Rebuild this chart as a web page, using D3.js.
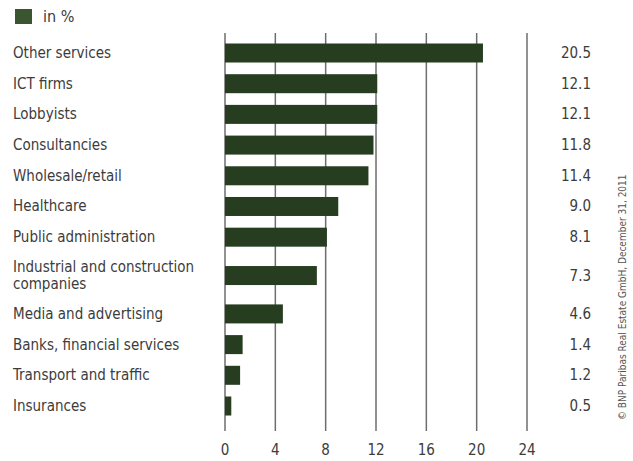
<!DOCTYPE html>
<html>
<head>
<meta charset="utf-8">
<script src="https://cdn.jsdelivr.net/npm/d3@7"></script>
<style>
  body { margin: 0; background: #fff; }
  text { font-family: "DejaVu Sans", sans-serif; font-stretch: condensed; }
</style>
</head>
<body>
<svg id="chart" width="633" height="461"></svg>
<script>
// categories and values (in %)
var categories = ["Other services", "ICT firms", "Lobbyists", "Consultancies", "Wholesale/retail",
  "Healthcare", "Public administration", "Industrial and construction companies",
  "Media and advertising", "Banks, financial services", "Transport and traffic", "Insurances"];
var values = [20.5, 12.1, 12.1, 11.8, 11.4, 9.0, 8.1, 7.3, 4.6, 1.4, 1.2, 0.5];
var labels = ["20.5", "12.1", "12.1", "11.8", "11.4", "9.0", "8.1", "7.3", "4.6", "1.4", "1.2", "0.5"];
var ticks = [0, 4, 8, 12, 16, 20, 24];

var svg = d3.select("#chart");
var barColor = "#263d1f";
var textColor = "#3c3c3c";

// rows with a two-line label get more room
var weights = categories.map(function(c){ return c.length > 30 ? 1.5 : 1; });
var cum = [], total = 0;
weights.forEach(function(w){ cum.push(total + w / 2); total += w; });

var y = d3.scaleLinear().domain([0.5, total - 0.5]).range([53, 406]);
var x = d3.scaleLinear().domain([0, 24]).range([225, 527]);

// gridlines
svg.append("g").selectAll("line")
  .data(ticks).enter().append("line")
  .attr("x1", function(d){ return x(d); })
  .attr("x2", function(d){ return x(d); })
  .attr("y1", 33).attr("y2", 431)
  .attr("stroke", "#6e6e6e")
  .attr("stroke-width", 1.5);

// x axis labels
svg.append("g").selectAll("text")
  .data(ticks).enter().append("text")
  .attr("x", function(d){ return x(d); })
  .attr("y", 455)
  .attr("text-anchor", "middle")
  .attr("font-size", 15)
  .attr("fill", textColor)
  .text(function(d){ return d; });

// bars
svg.append("g").selectAll("rect")
  .data(values).enter().append("rect")
  .attr("x", x(0))
  .attr("y", function(d, i){ return y(cum[i]) - 9.5; })
  .attr("width", function(d){ return x(d) - x(0); })
  .attr("height", 19)
  .attr("fill", barColor);

// category labels
var cat = svg.append("g").selectAll("text")
  .data(categories).enter().append("text")
  .attr("x", 13)
  .attr("y", function(d, i){ return y(cum[i]) + 5; })
  .attr("font-size", 15)
  .attr("fill", textColor);
cat.each(function(d, i){
  var t = d3.select(this);
  if (weights[i] > 1) {
    t.attr("y", y(cum[i]) - 4);
    t.append("tspan").attr("x", 13).text("Industrial and construction");
    t.append("tspan").attr("x", 13).attr("dy", 17).text("companies");
  } else {
    t.text(d);
  }
});

// value labels
svg.append("g").selectAll("text")
  .data(labels).enter().append("text")
  .attr("x", 591)
  .attr("y", function(d, i){ return y(cum[i]) + 5; })
  .attr("text-anchor", "end")
  .attr("font-size", 15)
  .attr("fill", textColor)
  .text(function(d){ return d; });

// legend
svg.append("rect").attr("x", 15).attr("y", 9).attr("width", 17).attr("height", 15).attr("fill", "#3a5530");
svg.append("text").attr("x", 43).attr("y", 22).attr("font-size", 16).attr("fill", textColor).text("in %");

// source note
svg.append("text")
  .attr("transform", "translate(626,420) rotate(-90)")
  .attr("font-size", 10)
  .attr("fill", "#555")
  .text("© BNP Paribas Real Estate GmbH, December 31, 2011");
</script>
</body>
</html>
